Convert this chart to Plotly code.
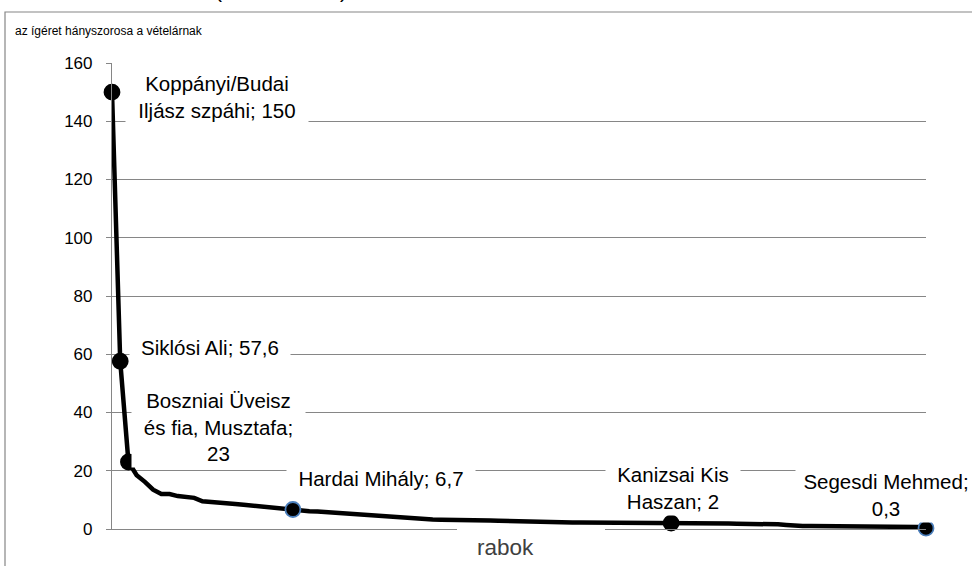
import plotly.graph_objects as go

# --- data ---
rabok = list(range(1, 101))
ertekek = [
    150, 57.6, 23, 18.5, 16.2, 13.5, 12, 12, 11.3, 11.1,
    10.7, 9.5, 9.3, 9.3, 9.0, 8.6, 8.3, 8.0, 7.8, 7.5,
    7.2, 7.0, 6.7, 6.2, 6.1, 6.0, 5.8, 5.7, 5.4, 5.2,
    5.0, 4.8, 4.5, 4.2, 4.0, 3.8, 3.6, 3.5, 3.4, 3.3,
    3.2, 3.2, 3.1, 3.1, 3.0, 3.0, 2.9, 2.8, 2.7, 2.6,
    2.5, 2.5, 2.4, 2.3, 2.2, 2.2, 2.2, 2.2, 2.2, 2.1,
    2.1, 2.1, 2.1, 2.1, 2.1, 2.0, 2.0, 2.0, 2.0, 2.0,
    2.0, 1.9, 1.9, 1.9, 1.9, 1.9, 1.8, 1.8, 1.8, 1.8,
    1.7, 1.6, 1.4, 1.1, 1.0, 1.0, 1.0, 1.0, 1.0, 0.9,
    0.9, 0.9, 0.9, 0.9, 0.8, 0.8, 0.8, 0.8, 0.7, 0.3,
]
cimkezett_rabok = [1, 2, 3, 23, 69, 100]
cimkek = [
    "Koppányi/Budai<br>Iljász szpáhi; 150",
    "Siklósi Ali; 57,6",
    "Boszniai Üveisz<br>és fia, Musztafa;<br>23",
    "Hardai Mihály; 6,7",
    "Kanizsai Kis<br>Haszan; 2",
    "Segesdi Mehmed;<br>0,3",
]
y_tickek = [0, 20, 40, 60, 80, 100, 120, 140, 160]
y_cim = "az ígéret hányszorosa a vételárnak"
x_cim = "rabok"

# --- styling ---
marker_szegely = ["#000000", "#000000", "#000000", "#4A7EBB", "#000000", "#4A7EBB"]
# label placement (shift in px from the point, box width/height)
cimke_pos = [
    (105, -5, 182, 56),
    (90, 14, 160, 28),
    (90, 35, 173, 80),
    (88, 31, 188, 28),
    (2, 35, 134, 54),
    (-40, 33, 180, 54),
]

FONT = "Liberation Sans, Arial, sans-serif"
GRID = "#868686"

fig = go.Figure()
fig.add_trace(go.Scatter(
    x=rabok, y=ertekek, mode="lines",
    line=dict(color="#000000", width=4.5),
    hoverinfo="skip", showlegend=False,
))
pont_y = [ertekek[r - 1] for r in cimkezett_rabok]
fig.add_trace(go.Scatter(
    x=cimkezett_rabok, y=pont_y, mode="markers", cliponaxis=False,
    marker=dict(color="#000000", size=15,
                line=dict(color=marker_szegely, width=1.8)),
    showlegend=False,
))

annotations = []
for r, v, t, (dx, dy, w, h) in zip(cimkezett_rabok, pont_y, cimkek, cimke_pos):
    annotations.append(dict(
        x=r, y=v, xref="x", yref="y", text=t, showarrow=False,
        xshift=dx, yshift=dy, width=w, height=h, align="center",
        valign="middle", bgcolor="#ffffff", borderpad=0,
        font=dict(family=FONT, size=20.5, color="#000000"),
    ))

W, H = 972, 566
L, R, T, B = 112, 46, 63, 37
pw, ph = W - L - R, H - T - B


def px_x(px):
    return (px - L) / pw


def px_y(py):
    return (H - B - py) / ph


annotations.append(dict(
    x=px_x(13), y=px_y(31), xref="paper", yref="paper", text=y_cim,
    showarrow=False, xanchor="left", yanchor="middle",
    font=dict(family=FONT, size=12, color="#000000"),
))
annotations.append(dict(
    x=px_x(505), y=px_y(547), xref="paper", yref="paper", text=x_cim,
    showarrow=False, xanchor="center", yanchor="middle",
    font=dict(family=FONT, size=22.5, color="#404040"),
))
for ch, px in (("(", 218), (")", 343)):
    annotations.append(dict(
        x=px_x(px), y=px_y(4), xref="paper", yref="paper", text=ch,
        showarrow=False, xanchor="center", yanchor="bottom",
        font=dict(family=FONT, size=21, color="#000000"),
    ))

shapes = [
    dict(type="rect", xref="paper", yref="paper",
         x0=px_x(5), x1=px_x(1000), y0=px_y(620), y1=px_y(12),
         line=dict(color=GRID, width=1.2), fillcolor="rgba(0,0,0,0)", layer="below"),
    dict(type="rect", xref="paper", yref="paper",
         x0=px_x(457), x1=px_x(605), y0=px_y(540), y1=px_y(526),
         line=dict(width=0), fillcolor="#ffffff", layer="above"),
]

fig.update_layout(
    width=W, height=H,
    margin=dict(l=L, r=R, t=T, b=B, pad=0),
    paper_bgcolor="#ffffff", plot_bgcolor="#ffffff",
    annotations=annotations, shapes=shapes,
    xaxis=dict(range=[1, 100], showgrid=False, zeroline=False,
               showline=True, linecolor=GRID, linewidth=1.2,
               showticklabels=False, ticks=""),
    yaxis=dict(range=[0, 160], tickvals=y_tickek, showgrid=True,
               gridcolor=GRID, gridwidth=1.2, zeroline=False,
               showline=True, linecolor=GRID, linewidth=1.2,
               ticks="outside", ticklen=5, tickcolor=GRID,
               ticklabelstandoff=10,
               tickfont=dict(family=FONT, size=17, color="#000000")),
)

fig.write_html(
    "out.html",
    config={"displayModeBar": False},
    post_script="document.body.style.margin='0';document.body.style.overflow='hidden';",
)
